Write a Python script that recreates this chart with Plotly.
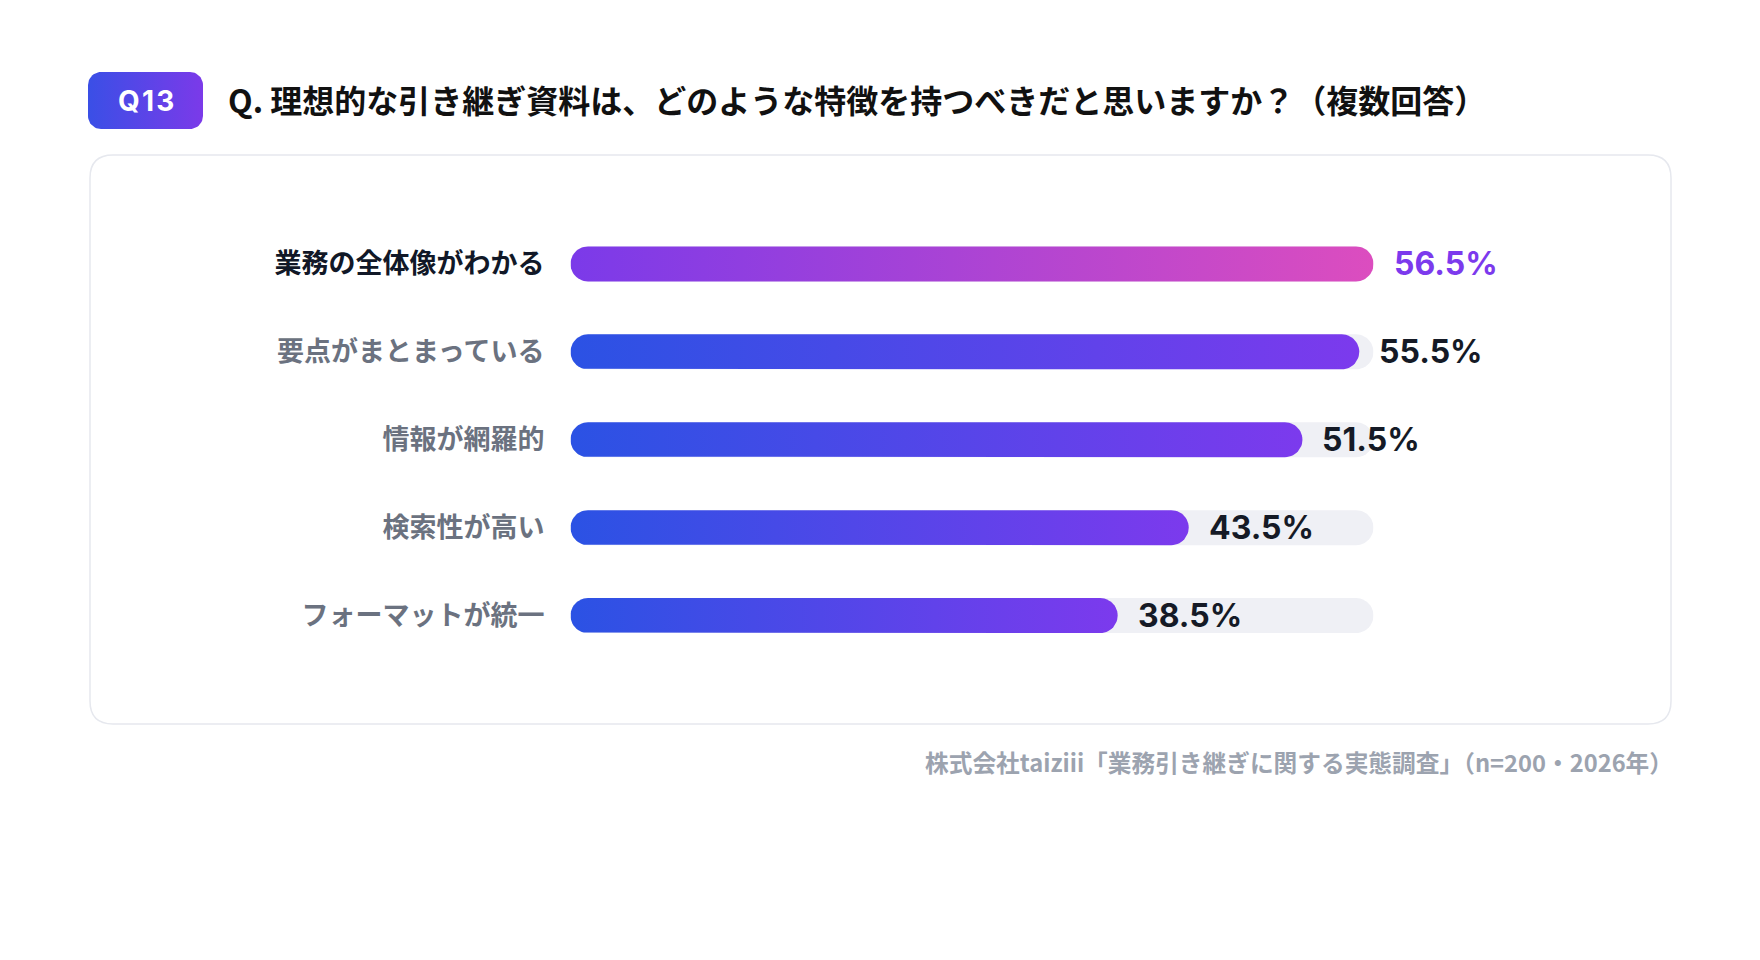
import numpy as np
import plotly.graph_objects as go

# data
categories = ["業務の全体像がわかる", "要点がまとまっている", "情報が網羅的", "検索性が高い", "フォーマットが統一"]
values = [56.5, 55.5, 51.5, 43.5, 38.5]
value_labels = ["56.5%", "55.5%", "51.5%", "43.5%", "38.5%"]
highlight = [True, False, False, False, False]

badge_text = "Q\u200a1\u200a3"
title_text = "Q. 理想的な引き継ぎ資料は、どのような特徴を持つべきだと思いますか？（複数回答）"
source_text = "株式会社taiziii「業務引き継ぎに関する実態調査」（n=200・2026年）"

W, H = 1760, 960
# plot area (pixels)
PX0, PX1 = 562.5, 1365.5
PY0, PY1 = 212, 651.5
BAR_PX = 35
RAD_PX = 17.5

n = len(categories)
xmax = max(values)
x_per_px = xmax / (PX1 - PX0)
y_per_px = n / (PY1 - PY0)

JP = "Noto Sans CJK JP"
NUM = "Inter"


def rounded_rect(x0, x1, y0, y1, rx, ry, k=14):
    # polygon of a rounded rectangle
    xs, ys = [], []
    corners = [(x1 - rx, y1 - ry, 0), (x0 + rx, y1 - ry, 90),
               (x0 + rx, y0 + ry, 180), (x1 - rx, y0 + ry, 270)]
    for cx, cy, a in corners:
        t = np.radians(np.linspace(a, a + 90, k))
        xs += list(cx + rx * np.cos(t))
        ys += list(cy + ry * np.sin(t))
    xs.append(xs[0])
    ys.append(ys[0])
    return xs, ys


def paper_path(x0, x1, y0, y1, r):
    # rounded rect path in paper units from pixel box
    def p(x, y):
        return f"{x / W:.5f},{1 - y / H:.5f}"
    return (f"M{p(x0 + r, y0)} L{p(x1 - r, y0)} Q{p(x1, y0)} {p(x1, y0 + r)} "
            f"L{p(x1, y1 - r)} Q{p(x1, y1)} {p(x1 - r, y1)} L{p(x0 + r, y1)} "
            f"Q{p(x0, y1)} {p(x0, y1 - r)} L{p(x0, y0 + r)} Q{p(x0, y0)} {p(x0 + r, y0)} Z")


fig = go.Figure()

rx = RAD_PX * x_per_px
ry = RAD_PX * y_per_px
hh = BAR_PX * y_per_px / 2

# gray tracks
for i in range(n):
    xs, ys = rounded_rect(0, xmax, i - hh, i + hh, rx, ry)
    fig.add_trace(go.Scatter(x=xs, y=ys, mode="lines", fill="toself",
                             fillcolor="#eff0f5", line=dict(width=0),
                             hoverinfo="skip", showlegend=False))

# gradient bars
for i, v in enumerate(values):
    xs, ys = rounded_rect(0, v, i - hh, i + hh, rx, ry)
    if highlight[i]:
        cs = [[0, "#7b3ae9"], [1, "#dc4dbf"]]
    else:
        cs = [[0, "#2b52e4"], [1, "#7c3aed"]]
    fig.add_trace(go.Scatter(x=xs, y=ys, mode="lines", fill="toself",
                             fillgradient=dict(type="horizontal", colorscale=cs),
                             line=dict(width=0), hoverinfo="skip", showlegend=False))

# value labels
for i, v in enumerate(values):
    fig.add_annotation(x=v, y=i, xref="x", yref="y", text=f"<b>{value_labels[i]}</b>",
                       showarrow=False, xanchor="left", yanchor="middle", xshift=18,
                       font=dict(family=NUM, size=32,
                                 color="#7c3aed" if highlight[i] else "#151a26"))

ticktext = []
for c, h in zip(categories, highlight):
    if h:
        ticktext.append(f"<span style='color:#111827'><b>{c}</b></span>")
    else:
        ticktext.append(f"<b>{c}</b>")

# badge (overlay pixel axes)
bx, by = rounded_rect(80, 195, 64, 121, 13, 13)
fig.add_trace(go.Scatter(x=bx, y=by, xaxis="x2", yaxis="y2", mode="lines", fill="toself",
                         fillgradient=dict(type="horizontal",
                                           colorscale=[[0, "#3a4fe6"], [1, "#7b3ae9"]]),
                         line=dict(width=0), hoverinfo="skip", showlegend=False))

fig.add_annotation(x=137.5, y=93, xref="x2", yref="y2", text=f"<b>{badge_text}</b>",
                   showarrow=False,
                   font=dict(family=NUM, size=28, color="white", weight=900))
fig.add_annotation(x=218, y=91, xref="x2", yref="y2", text=f"<b>{title_text}</b>",
                   showarrow=False, xanchor="left", yanchor="middle",
                   font=dict(family=JP, size=32, color="#111111", weight=900))
fig.add_annotation(x=1667, y=754, xref="x2", yref="y2", text=f"<b>{source_text}</b>",
                   showarrow=False, xanchor="right", yanchor="middle",
                   font=dict(family=JP, size=23.7, color="#9ca3af"))

# card
fig.add_shape(type="path", xref="paper", yref="paper", layer="below",
              path=paper_path(82, 1663, 147, 716, 23),
              line=dict(color="#e6e8ee", width=1.5), fillcolor="white")

fig.update_layout(
    width=W, height=H,
    margin=dict(l=0, r=0, t=0, b=0),
    paper_bgcolor="white", plot_bgcolor="rgba(0,0,0,0)",
    showlegend=False,
    xaxis=dict(domain=[PX0 / W, PX1 / W], range=[0, xmax], visible=False, fixedrange=True),
    yaxis=dict(domain=[1 - PY1 / H, 1 - PY0 / H], range=[n - 0.5, -0.5],
               tickvals=list(range(n)), ticktext=ticktext, showgrid=False,
               zeroline=False, showline=False, ticks="", ticklabelstandoff=25,
               tickfont=dict(family=JP, size=27, color="#6b7280"), fixedrange=True),
    xaxis2=dict(domain=[0, 1], range=[0, W], anchor="y2", visible=False, fixedrange=True),
    yaxis2=dict(domain=[0, 1], range=[H, 0], anchor="x2", visible=False, fixedrange=True),
)

fig.write_html("out.html")
